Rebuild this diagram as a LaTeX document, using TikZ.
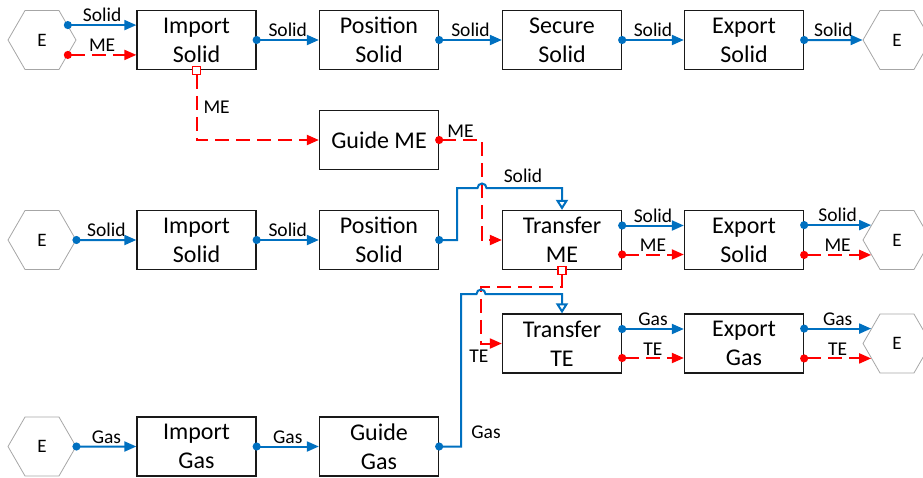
\documentclass[tikz,border=0pt]{standalone}
\usepackage{fontspec}
\setmainfont{Carlito}
\usetikzlibrary{arrows.meta,shapes.geometric}
\definecolor{flujoazul}{RGB}{0,112,192}
\definecolor{bordegris}{RGB}{166,166,166}

\begin{document}
\begin{tikzpicture}[x=1pt, y=-1pt,
    caja/.style={draw=black!90, line width=1.3pt, minimum width=119pt, minimum height=59pt,
      inner sep=0pt, align=center, font=\fontsize{24}{29}\selectfont},
    hexa/.style={draw=bordegris, line width=0.8pt, regular polygon, regular polygon sides=6,
      minimum size=68pt, inner sep=0pt, font=\fontsize{19}{22}\selectfont},
    etiq/.style={text=black, inner sep=2pt, font=\fontsize{19.5}{22}\selectfont},
    cuadro/.style={draw=red, line width=1.3pt, fill=white, minimum size=8pt, inner sep=0pt},
    solido/.style={flujoazul, line width=2pt, shorten <=-4pt,
      arrows={Circle[length=8pt]-Triangle[length=12pt,width=10pt]}},
    solidoT/.style={flujoazul, line width=2pt, shorten <=-4pt,
      arrows={Circle[length=8pt]-Triangle[open,length=10pt,width=12pt]}},
    energia/.style={red, line width=2pt, dash pattern=on 14pt off 7pt, shorten <=-4pt,
      arrows={Circle[length=8pt]-Triangle[length=12pt,width=10pt]}},
    energiaB/.style={red, line width=2pt, dash pattern=on 14pt off 7pt,
      arrows={-Triangle[length=12pt,width=10pt]}}]
  \useasboundingbox (0,0) rectangle (923,477);

  % Fila superior
  \node[hexa] (eA) at (42,40) {E};
  \node[caja] (impS) at (196.5,40) {Import\\Solid};
  \node[caja] (posS) at (379,40) {Position\\Solid};
  \node[caja] (secS) at (562,40) {Secure\\Solid};
  \node[caja] (expS) at (744,40) {Export\\Solid};
  \node[hexa] (eB) at (897,40) {E};

  \draw[solido] (eA.30) -- (eA.30 -| impS.west) node[midway, above, etiq] {Solid};
  \draw[energia] (eA.-30) -- (eA.-30 -| impS.west) node[midway, above, etiq] {ME};
  \draw[solido] (impS.east) -- (posS.west) node[midway, above, etiq] {Solid};
  \draw[solido] (posS.east) -- (secS.west) node[midway, above, etiq] {Solid};
  \draw[solido] (secS.east) -- (expS.west) node[midway, above, etiq] {Solid};
  \draw[solido] (expS.east) -- (eB.west) node[midway, above, etiq] {Solid};

  % Guide ME
  \node[caja] (guideME) at (379,140) {Guide ME};
  \node[cuadro] (sqA) at (impS.south) {};
  \draw[energiaB] (sqA.south) |- (guideME.west) node[pos=0.25, right=4pt, etiq] {ME};

  % Fila central
  \node[hexa] (eC) at (42,240) {E};
  \node[caja] (impS2) at (196.5,240) {Import\\Solid};
  \node[caja] (posS2) at (379,240) {Position\\Solid};
  \node[caja] (trME) at (562,240) {Transfer\\ME};
  \node[caja] (expS2) at (744,240) {Export\\Solid};
  \node[hexa] (eD) at (897,240) {E};

  \draw[solido] (eC.east) -- (impS2.west) node[midway, above, etiq] {Solid};
  \draw[solido] (impS2.east) -- (posS2.west) node[midway, above, etiq] {Solid};

  % Cruce ME / Solid
  \coordinate (jA) at (482,188);
  \draw[energia] (guideME.east) -| (jA) node[pos=0.25, above, etiq] {ME} |- (trME.west);
  \draw[solidoT] (posS2.east) -- ++(18,0) |- ([xshift=-4.5pt]jA)
    arc[start angle=180, end angle=0, radius=4.5pt] -| (trME.north);
  \node[etiq] (lbSolid) at (523,176) {Solid};

  \draw[solido] ([yshift=14.5pt]trME.east) -- ([yshift=14.5pt]expS2.west) node[midway, above, etiq] {Solid};
  \draw[energia] ([yshift=-14.5pt]trME.east) -- ([yshift=-14.5pt]expS2.west) node[midway, above, etiq] {ME};
  \draw[solido] (eD.150 -| expS2.east) -- (eD.150) node[midway, above, etiq] {Solid};
  \draw[energia] (eD.210 -| expS2.east) -- (eD.210) node[midway, above, etiq] {ME};

  % Fila TE
  \node[caja] (trTE) at (562,343.5) {Transfer\\TE};
  \node[caja] (expG) at (744,343.5) {Export\\Gas};
  \node[hexa] (eE) at (897,343.5) {E};

  \draw[solido] ([yshift=14.5pt]trTE.east) -- ([yshift=14.5pt]expG.west) node[midway, above, etiq] {Gas};
  \draw[energia] ([yshift=-14.5pt]trTE.east) -- ([yshift=-14.5pt]expG.west) node[midway, above, etiq] {TE};
  \draw[solido] (eE.150 -| expG.east) -- (eE.150) node[midway, above, etiq] {Gas};
  \draw[energia] (eE.210 -| expG.east) -- (eE.210) node[midway, above, etiq] {TE};

  % Fila inferior
  \node[hexa] (eF) at (42,446.5) {E};
  \node[caja] (impG) at (196.5,446.5) {Import\\Gas};
  \node[caja] (guideG) at (379,446.5) {Guide\\Gas};

  \draw[solido] (eF.east) -- (impG.west) node[midway, above, etiq] {Gas};
  \draw[solido] (impG.east) -- (guideG.west) node[midway, above, etiq] {Gas};

  % Cruce TE / Gas
  \node[cuadro] (sqB) at (trME.south) {};
  \coordinate (kB) at (481,287);
  \coordinate (jB) at (481,294);
  \draw[energiaB] (sqB.south) |- (kB) |- (trTE.west);
  \node[etiq] (lbTE) at (479,356) {TE};
  \draw[solidoT] (guideG.east) -- ++(22,0) |- ([xshift=-4.5pt]jB)
    arc[start angle=180, end angle=0, radius=4.5pt] -| (trTE.north);
  \node[etiq] (lbGas) at (486,432) {Gas};
\end{tikzpicture}
\end{document}
